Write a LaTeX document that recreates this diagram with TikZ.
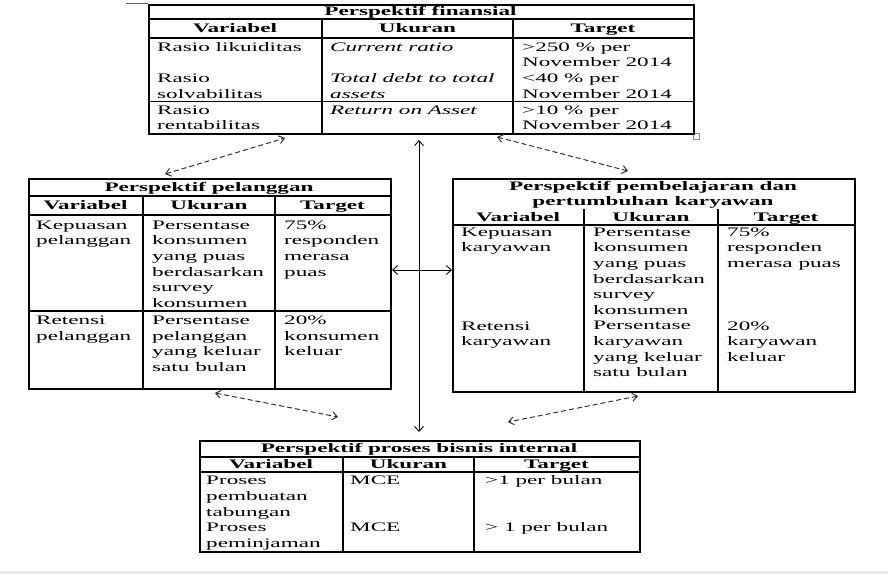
\documentclass[tikz,border=0pt]{standalone}
\usepackage{fontspec}
\setmainfont{Liberation Serif}[FakeStretch=1.78]
\usetikzlibrary{arrows.meta}
\tikzset{
  frame/.style={draw, line width=1.5pt, inner sep=0pt, anchor=north west},
  rulel/.style={line width=1.1pt},
  txt/.style={inner sep=0pt, align=left, anchor=north west, font=\fontsize{13}{15.6}\selectfont},
  hd/.style={inner sep=0pt, anchor=base, font=\fontsize{13}{15.6}\selectfont\bfseries},
  dasharrow/.style={black!80, line width=1pt, dash pattern=on 5pt off 3pt,
    {Straight Barb[length=5pt,width=8pt]}-{Straight Barb[length=5pt,width=8pt]}},
  solidarrow/.style={black, line width=0.9pt,
    {Straight Barb[length=5pt,width=9pt]}-{Straight Barb[length=5pt,width=9pt]}},
}
\newcommand\cellat[4]{\node[txt] (#1) at (#2,{#3-6}) {\rule{0pt}{10pt}#4};}
\begin{document}
\begin{tikzpicture}[x=1pt,y=-1pt]
\useasboundingbox (0,0) rectangle (888,574);
\fill[white] (0,0) rectangle (888,574);
\fill[black!8] (0,571) rectangle (888,574);
% small artefacts
\draw[black!60, line width=0.8pt] (126,3.5) -- (148,3.5);
\draw[black!45, line width=0.6pt] (693.5,133.5) rectangle (699.5,139.5);

% ===== Perspektif finansial =====
\node[frame, minimum width=545pt, minimum height=129pt] (fin) at (148,4) {};
\draw[rulel] (148,19) -- (693,19);
\draw[rulel] (148,38) -- (693,38);
\draw[rulel] (148,101.5) -- (693,101.5);
\draw[rulel] (322,19) -- (322,133);
\draw[rulel] (513,19) -- (513,133);
\node[hd] (finT) at (420.5,15.5) {Perspektif finansial};
\node[hd] (finH1) at (235,32.5) {Variabel};
\node[hd] (finH2) at (417.5,32.5) {Ukuran};
\node[hd] (finH3) at (603,32.5) {Target};
\cellat{f11}{157}{47}{Rasio likuiditas\\ ~\\ Rasio\\ solvabilitas}
\cellat{f12}{330}{47}{\textit{Current ratio}\\ ~\\ \textit{Total debt to total}\\ \textit{assets}}
\cellat{f13}{522}{47}{>250 \% per\\ November 2014\\ <40 \% per\\ November 2014}
\cellat{f21}{157}{110}{Rasio\\ rentabilitas}
\cellat{f22}{330}{110}{\textit{Return on Asset}}
\cellat{f23}{522}{110}{>10 \% per\\ November 2014}

% ===== Perspektif pelanggan =====
\node[frame, minimum width=362pt, minimum height=210pt] (pel) at (28,178) {};
\draw[rulel] (28,196) -- (390,196);
\draw[line width=1.4pt] (28,215) -- (390,215);
\draw[rulel] (28,311) -- (390,311);
\draw[rulel] (143,196) -- (143,388);
\draw[rulel] (275,196) -- (275,388);
\node[hd] (pelT) at (209,191) {Perspektif pelanggan};
\node[hd] (pelH1) at (85.5,209.5) {Variabel};
\node[hd] (pelH2) at (209,209.5) {Ukuran};
\node[hd] (pelH3) at (332.5,209.5) {Target};
\cellat{p11}{36}{225}{Kepuasan\\ pelanggan}
\cellat{p12}{152}{225}{Persentase\\ konsumen\\ yang puas\\ berdasarkan\\ survey\\ konsumen}
\cellat{p13}{284}{225}{75\%\\ responden\\ merasa\\ puas}
\cellat{p21}{36}{320.5}{Retensi\\ pelanggan}
\cellat{p22}{152}{320.5}{Persentase\\ pelanggan\\ yang keluar\\ satu bulan}
\cellat{p23}{284}{320.5}{20\%\\ konsumen\\ keluar}

% ===== Perspektif pembelajaran dan pertumbuhan karyawan =====
\node[frame, minimum width=402pt, minimum height=213pt] (kar) at (452,178) {};
\draw[line width=1.4pt] (452,225) -- (854,225);
\draw[rulel] (584,209) -- (584,391);
\draw[rulel] (718,209) -- (718,391);
\node[hd] (karT1) at (653,190) {Perspektif pembelajaran dan};
\node[hd] (karT2) at (653,205.7) {pertumbuhan karyawan};
\node[hd] (karH1) at (518,221) {Variabel};
\node[hd] (karH2) at (651,221) {Ukuran};
\node[hd] (karH3) at (786,221) {Target};
\cellat{k11}{461}{232}{Kepuasan\\ karyawan}
\cellat{k12}{593}{232}{Persentase\\ konsumen\\ yang puas\\ berdasarkan\\ survey\\ konsumen\\ Persentase\\ karyawan\\ yang keluar\\ satu bulan}
\cellat{k13}{727}{232}{75\%\\ responden\\ merasa puas}
\cellat{k21}{461}{326}{Retensi\\ karyawan}
\cellat{k23}{727}{326}{20\%\\ karyawan\\ keluar}

% ===== Perspektif proses bisnis internal =====
\node[frame, minimum width=440pt, minimum height=111pt] (pro) at (199,440) {};
\draw[rulel] (199,457) -- (639,457);
\draw[rulel] (199,472) -- (639,472);
\draw[rulel] (343,457) -- (343,551);
\draw[rulel] (474,457) -- (474,551);
\node[hd] (proT) at (419,452.5) {Perspektif proses bisnis internal};
\node[hd] (proH1) at (271,468.5) {Variabel};
\node[hd] (proH2) at (408.5,468.5) {Ukuran};
\node[hd] (proH3) at (556.5,468.5) {Target};
\cellat{r11}{206}{480.7}{Proses\\ pembuatan\\ tabungan\\ Proses\\ peminjaman}
\cellat{r12}{350}{480.7}{MCE}
\cellat{r13}{485}{480.7}{>1 per bulan}
\cellat{r22}{350}{527}{MCE}
\cellat{r23}{485}{527}{> 1 per bulan}

% ===== connectors =====
\coordinate (a1) at (165,174);
\coordinate (a2) at (285,138);
\coordinate (b1) at (497,137);
\coordinate (b2) at (628,171);
\coordinate (c1) at (215,393);
\coordinate (c2) at (338,417);
\coordinate (d1) at (638,396);
\coordinate (d2) at (508,422);
\coordinate (v1) at (419,140);
\coordinate (v2) at (419,432);
\coordinate (h1) at (392,270);
\coordinate (h2) at (452,270);
\draw[dasharrow] (a1) -- (a2);
\draw[dasharrow] (b1) -- (b2);
\draw[dasharrow] (c1) -- (c2);
\draw[dasharrow] (d1) -- (d2);
\draw[solidarrow] (v1) -- (v2);
\draw[solidarrow] (h1) -- (h2);
\end{tikzpicture}
\end{document}
